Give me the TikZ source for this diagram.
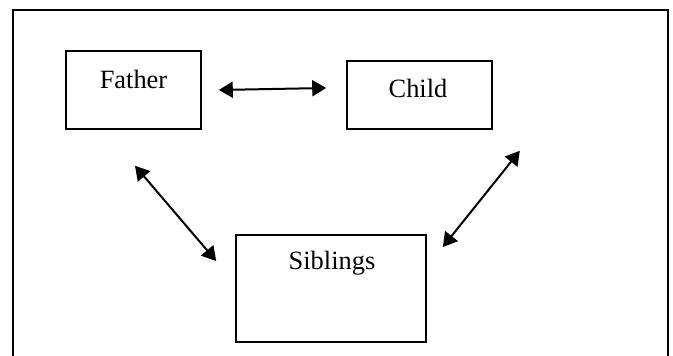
\documentclass[tikz,border=0pt]{standalone}
\usepackage{fontspec}
\setmainfont{Liberation Serif}
\usetikzlibrary{arrows.meta}
\begin{document}
\begin{tikzpicture}[x=0.5pt, y=-0.5pt,
    box/.style={draw, thick, rectangle, inner sep=0pt},
    lbl/.style={font=\fontsize{13.2}{15}\selectfont, inner sep=0pt},
    link/.style={line width=1pt, {Triangle[length=7pt,width=8pt]}-{Triangle[length=7pt,width=8pt]}}]
                \useasboundingbox (0,0) rectangle (673,356);
                \draw[line width=1.2pt] (13,362) -- (13,10) -- (668,10) -- (668,362);

                \node[box, minimum width=67.5pt, minimum height=39pt] (father) at (133.5,90) {};
                \node[lbl] (fathertext) at (133.5,79) {Father};

                \node[box, minimum width=72.5pt, minimum height=34pt] (child) at (419.5,95) {};
                \node[lbl] (childtext) at (418,88) {Child};

                \node[box, minimum width=95pt, minimum height=53.5pt] (siblings) at (331,288.5) {};
                \node[lbl] (siblingstext) at (332,263) {Siblings};

                \draw[link] ([xshift=8.5pt]father.east) -- ([xshift=-10pt,yshift=3.5pt]child.west);
                \draw[link] ([xshift=0.75pt,yshift=-18pt]father.south) -- ([xshift=-9.5pt,yshift=13.75pt]siblings.west);
                \draw[link] ([xshift=13.5pt,yshift=-10.5pt]child.south east) -- ([xshift=8pt,yshift=20.75pt]siblings.east);
            \end{tikzpicture}
\end{document}
